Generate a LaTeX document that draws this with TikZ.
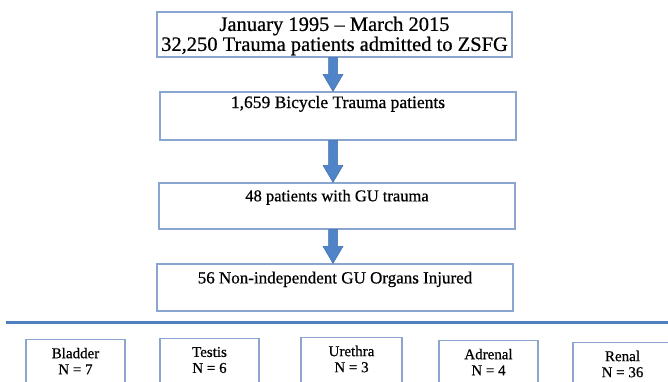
\documentclass[tikz,border=0pt]{standalone}
\usepackage{fontspec}
\setmainfont{Liberation Serif}[FakeBold=0.6]
\usetikzlibrary{calc}
\definecolor{boxline}{HTML}{8AA6D0}
\definecolor{sepline}{HTML}{4F7FBE}
\definecolor{arrowfill}{HTML}{4F85C8}
\definecolor{arrowedge}{HTML}{3F6FAD}
\tikzset{
  box/.style={draw=boxline, line width=1.3pt, fill=white, inner sep=0pt},
  maintext/.style={inner sep=0pt, align=center},
  smalltext/.style={inner sep=0pt, align=center, font=\fontsize{15}{16}\selectfont},
  blockarrow/.style={fill=arrowfill, draw=arrowedge, line width=0.5pt},
}
\begin{document}
\begin{tikzpicture}[x=1pt,y=-1pt]
\useasboundingbox (0,0) rectangle (668,382);
\fill[white] (0,0) rectangle (668,382);
% main boxes
\node[box, minimum width=355pt, minimum height=45pt] (b1) at (334.5,34.5) {};
\node[box, minimum width=356pt, minimum height=48pt] (b2) at (338,116) {};
\node[box, minimum width=356pt, minimum height=46pt] (b3) at (337,206) {};
\node[box, minimum width=356pt, minimum height=47pt] (b4) at (335,287.5) {};
\node[maintext, font=\fontsize{20.5}{20}\selectfont] (t1) at ($(b1.center)+(0,1.5)$) {January 1995 -- March 2015\\32,250 Trauma patients admitted to ZSFG};
\node[maintext, font=\fontsize{17.5}{20}\selectfont] (t2) at ($(b2.north)+(0,12.5)$) {1,659 Bicycle Trauma patients};
\node[maintext, font=\fontsize{16.5}{20}\selectfont] (t3) at ($(b3.north)+(0,15)$) {48 patients with GU trauma};
\node[maintext, font=\fontsize{17}{20}\selectfont] (t4) at ($(b4.north)+(0,16)$) {56 Non-independent GU Organs Injured};
% block arrows
\foreach \a/\b in {b1/b2, b2/b3, b3/b4}{
  \coordinate (tip) at ($(\b.north -| 333,0)$);
  \coordinate (tail) at ($(\a.south -| 333,0)$);
  \draw[blockarrow] ($(tail)+(-4.5,0)$) -- ($(tip)+(-4.5,-17)$) -- ($(tip)+(-10,-17)$)
     -- (tip) -- ($(tip)+(10,-17)$) -- ($(tip)+(4.5,-17)$)
     -- ($(tail)+(4.5,0)$) -- cycle;
}
% separator line
\coordinate (l1) at (6,322);
\coordinate (l2) at (668,322);
\draw[sepline, line width=3pt] (l1) -- (l2);
% bottom boxes
\begin{scope}
\clip (0,0) rectangle (668,382);
\node[box, minimum width=99pt, minimum height=60pt, anchor=north] (o1) at (75.5,339) {};
\node[box, minimum width=99pt, minimum height=60pt, anchor=north] (o2) at (209.5,338) {};
\node[box, minimum width=101pt, minimum height=60pt, anchor=north] (o3) at (351.5,337) {};
\node[box, minimum width=99pt, minimum height=60pt, anchor=north] (o4) at (488.5,340) {};
\node[box, minimum width=99pt, minimum height=60pt, anchor=north] (o5) at (622.5,342) {};
\end{scope}
\node[smalltext] (s1) at ($(o1.north)+(0,22)$) {Bladder\\N = 7};
\node[smalltext] (s2) at ($(o2.north)+(0,22)$) {Testis\\N = 6};
\node[smalltext] (s3) at ($(o3.north)+(0,22)$) {Urethra\\N = 3};
\node[smalltext] (s4) at ($(o4.north)+(0,22)$) {Adrenal\\N = 4};
\node[smalltext] (s5) at ($(o5.north)+(0,22)$) {Renal\\N = 36};
\end{tikzpicture}
\end{document}
